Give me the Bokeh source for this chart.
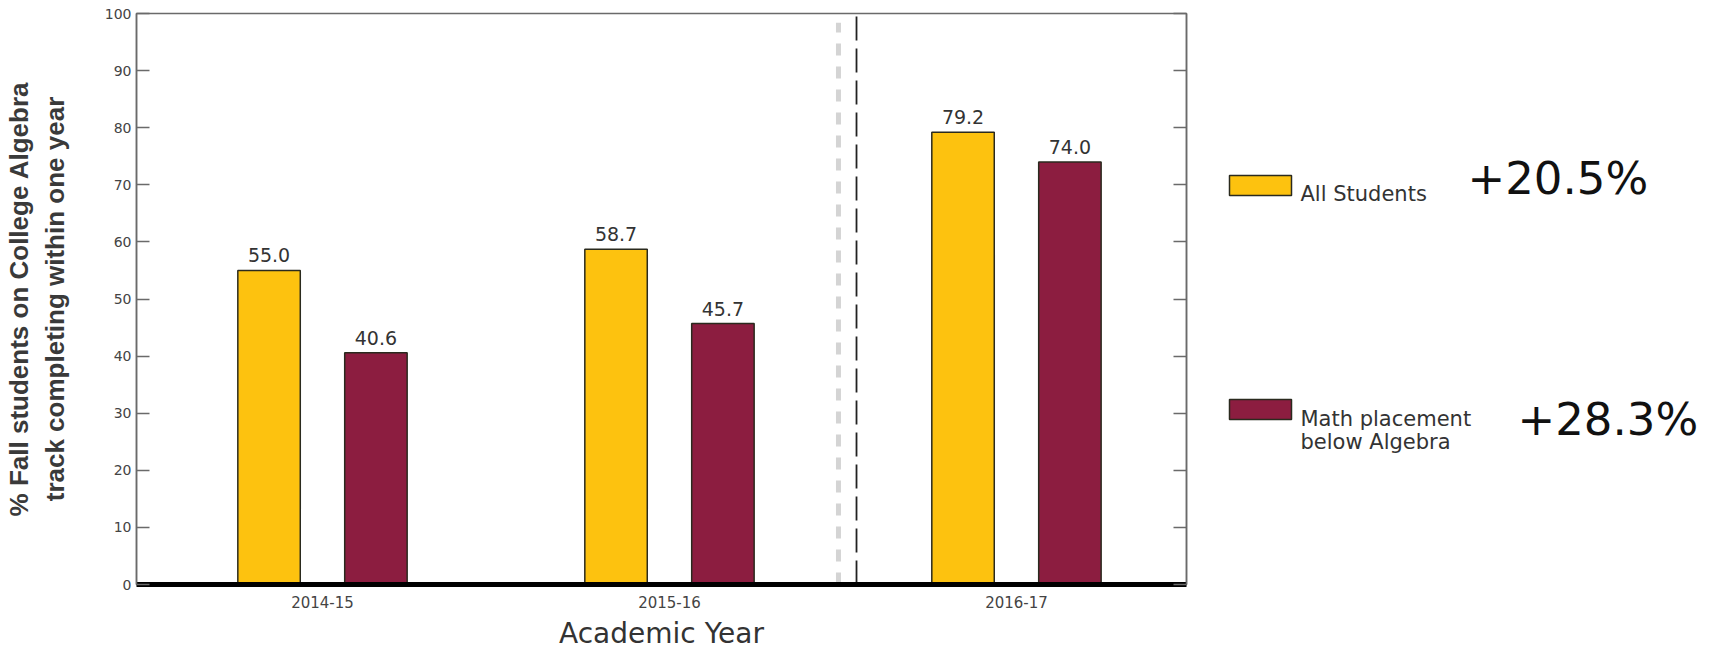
from bokeh.plotting import figure
from bokeh.models import (ColumnDataSource, FixedTicker, LinearAxis, Range1d)
from bokeh.layouts import row
from bokeh.core.properties import value
from bokeh.embed import file_html
from bokeh.resources import INLINE

# ---- data ---------------------------------------------------------------
years = ["2014-15", "2015-16", "2016-17"]
all_students = [55.0, 58.7, 79.2]
below_algebra = [40.6, 45.7, 74.0]
series_names = ["All Students", "Math placement\nbelow Algebra"]
gains = ["+20.5%", "+28.3%"]
y_ticks = [0, 10, 20, 30, 40, 50, 60, 70, 80, 90, 100]

# ---- style --------------------------------------------------------------
GOLD = "#FDC20F"
MAROON = "#8C1D40"
EDGE = "#2a2a1e"
AXIS_GRAY = "#6a6a6a"
TEXT_GRAY = "#444444"
BAR_W = 0.18
BAR_SHIFT = 0.154
SANS = "DejaVu Sans"
TOP, FRAME_H, BOTTOM = 13, 571, 69

xs = list(range(len(years)))
src_all = ColumnDataSource(dict(
    x=[i - BAR_SHIFT for i in xs], top=all_students,
    lab=[f"{v:.1f}" for v in all_students]))
src_low = ColumnDataSource(dict(
    x=[i + BAR_SHIFT for i in xs], top=below_algebra,
    lab=[f"{v:.1f}" for v in below_algebra]))

p = figure(title=None, frame_width=1050, frame_height=FRAME_H,
           x_range=Range1d(-0.536, 2.49), y_range=Range1d(0, 100),
           min_border_left=134, min_border_right=6,
           min_border_top=TOP, min_border_bottom=BOTTOM,
           output_backend="svg", toolbar_location=None,
           background_fill_color="white", border_fill_color="white")
p.grid.visible = False
p.outline_line_color = AXIS_GRAY
p.outline_line_width = 1.5

# bars
p.vbar(x="x", top="top", width=BAR_W, bottom=0, source=src_all,
       fill_color=GOLD, line_color=EDGE, line_width=1.5)
p.vbar(x="x", top="top", width=BAR_W, bottom=0, source=src_low,
       fill_color=MAROON, line_color=EDGE, line_width=1.5)

# value labels above the bars
for src in (src_all, src_low):
    p.text(x="x", y="top", text="lab", source=src, y_offset=-8,
           text_align="center", text_baseline="bottom",
           text_font=value(SANS), text_font_size="19px",
           text_color="#333333")

# divider between the earlier years and 2016-17
p.segment(x0=[1.487], y0=[0], x1=[1.487], y1=[98.4],
          line_color="#d4d4d4", line_width=5, line_dash="12 11")
p.segment(x0=[1.539], y0=[0], x1=[1.539], y1=[100],
          line_color="#222222", line_width=1.8, line_dash="24 8")

# y axis (left) with inward ticks
ya = p.yaxis[0]
ya.ticker = FixedTicker(ticks=y_ticks)
ya.major_tick_in = 13
ya.major_tick_out = 0
ya.minor_tick_line_color = None
ya.axis_line_color = AXIS_GRAY
ya.axis_line_width = 1.5
ya.major_tick_line_color = AXIS_GRAY
ya.major_tick_line_width = 1.5
ya.major_label_text_font = SANS
ya.major_label_text_font_size = "14px"
ya.major_label_text_color = TEXT_GRAY
ya.major_label_standoff = 5
ya.axis_label = "% Fall students on College Algebra\ntrack completing within one year"
ya.axis_label_text_font = "Liberation Sans"
ya.axis_label_text_font_style = "bold"
ya.axis_label_text_font_size = "26px"
ya.axis_label_text_color = "#3a3a3a"
ya.axis_label_standoff = 32

# right frame ticks (no labels)
ra = LinearAxis(ticker=FixedTicker(ticks=y_ticks))
ra.major_label_overrides = {t: "" for t in y_ticks}
ra.major_tick_in = 13
ra.major_tick_out = 0
ra.minor_tick_line_color = None
ra.axis_line_color = AXIS_GRAY
ra.axis_line_width = 1.5
ra.major_tick_line_color = AXIS_GRAY
ra.major_tick_line_width = 1.5
ra.major_label_standoff = 0
p.add_layout(ra, "right")

# x axis: heavy baseline, year labels
xa = p.xaxis[0]
xa.ticker = FixedTicker(ticks=xs)
xa.major_label_overrides = {i: y for i, y in zip(xs, years)}
xa.major_tick_in = 0
xa.major_tick_out = 0
xa.minor_tick_in = 0
xa.minor_tick_out = 0
xa.major_tick_line_color = None
xa.minor_tick_line_color = None
xa.axis_line_color = "black"
xa.axis_line_width = 5
xa.major_label_text_font = SANS
xa.major_label_text_font_size = "15px"
xa.major_label_text_color = TEXT_GRAY
xa.major_label_standoff = 11
xa.axis_label = "Academic Year"
xa.axis_label_text_font = SANS
xa.axis_label_text_font_style = "normal"
xa.axis_label_text_font_size = "28px"
xa.axis_label_text_color = "#333333"
xa.axis_label_standoff = 6

# ---- legend panel with change figures ----------------------------------
# its frame lines up with the chart frame; ranges are in canvas pixels
lg = figure(title=None, frame_width=529, frame_height=FRAME_H,
            x_range=Range1d(0, 529),
            y_range=Range1d(TOP + FRAME_H, TOP),
            x_axis_location=None, y_axis_location=None,
            min_border_left=0, min_border_right=0,
            min_border_top=TOP, min_border_bottom=BOTTOM,
            output_backend="svg", toolbar_location=None,
            background_fill_color="white", border_fill_color="white")
lg.grid.visible = False
lg.outline_line_color = None

key_y = [185, 409]
lg.rect(x=[68, 68], y=key_y, width=62, height=20,
        fill_color=[GOLD, MAROON], line_color=EDGE, line_width=1.5)
lg.text(x=[108], y=[193], text=[series_names[0]],
        text_font=value(SANS), text_font_size="21px",
        text_color="#333333", text_baseline="alphabetic")
lines = series_names[1].split("\n")
lg.text(x=[108, 108], y=[418, 441], text=lines,
        text_font=value(SANS), text_font_size="21px",
        text_color="#333333", text_baseline="alphabetic")
lg.text(x=[275, 325], y=[178, 419], text=gains,
        text_font=value(SANS), text_font_size="45px",
        text_color="#111111", text_baseline="middle")

layout = row(p, lg)
open("out.html", "w").write(file_html(layout, INLINE))
